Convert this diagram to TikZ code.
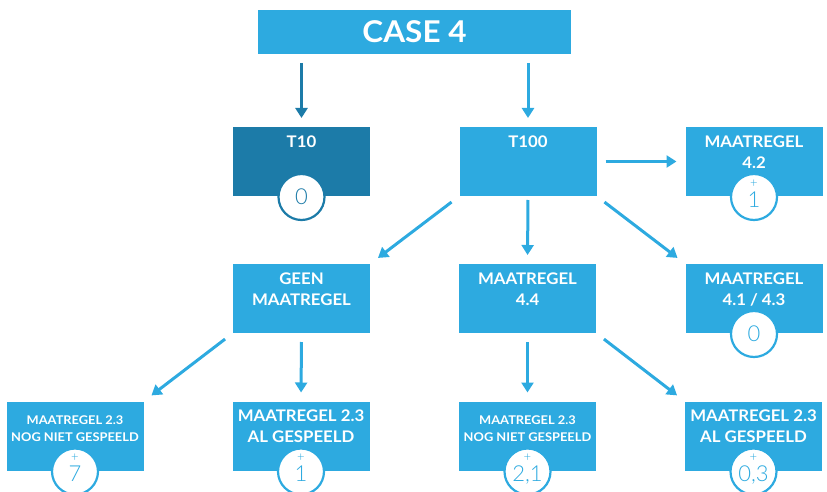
\documentclass[tikz,border=0pt]{standalone}
\usepackage{fontspec}
\setmainfont{Lato}[FakeStretch=1.05]
\newfontfamily\smallfont{Lato}[FakeStretch=1.07]
\newfontfamily\lightfont{Lato Light}
\usetikzlibrary{arrows.meta}
\definecolor{sky}{HTML}{2DAAE0}
\definecolor{deep}{HTML}{1C7BA8}
\begin{document}
\begin{tikzpicture}[x=1pt,y=-1pt,
  box/.style={fill=sky, draw=none, minimum width=137pt, minimum height=69pt, inner sep=0pt, outer sep=0pt},
  lbl/.style={text=white, font=\bfseries\fontsize{16}{21}\selectfont, align=center, inner sep=0pt, anchor=north},
  smalllbl/.style={lbl, font=\smallfont\bfseries\fontsize{12}{17}\selectfont},
  badge/.style={circle, fill=white, draw=sky, line width=2.2pt, minimum size=46pt, inner sep=0pt},
  num/.style={text=sky, font=\lightfont\fontsize{22}{22}\selectfont, inner sep=0pt, text depth=0pt},
  plus/.style={text=sky, font=\lightfont\fontsize{13}{13}\selectfont, inner sep=0pt},
  arr/.style={color=sky, line width=3pt, -{Triangle[width=12pt,length=10pt]}, shorten <=9pt, shorten >=9pt}]
\useasboundingbox (0,0) rectangle (827,492);

% boxes
\node[box, minimum width=313pt, minimum height=44pt, text=white,
      font=\bfseries\fontsize{30}{30}\selectfont] (case) at (414.5,32) {CASE 4};
\node[box, fill=deep] (t10) at (301.5,161.5) {};
\node[box] (t100) at (528,161.5) {};
\node[box] (m42)  at (754,161.5) {};
\node[box] (geen) at (301.5,298.5) {};
\node[box] (m44)  at (527.5,298.5) {};
\node[box] (m41)  at (754,298.5) {};
\node[box] (b1) at (75,436) {};
\node[box] (b2) at (301,436) {};
\node[box] (b3) at (527.5,436) {};
\node[box] (b4) at (753.5,436) {};

% box labels
\node[lbl] (t10t)  at ([yshift=-8.5pt]t10.north)  {T10};
\node[lbl] (t100t) at ([yshift=-8.5pt]t100.north) {T100};
\node[lbl] (m42t)  at ([yshift=-9pt]m42.north)   {MAATREGEL\\4.2};
\node[lbl] (geent) at ([yshift=-9pt]geen.north)  {GEEN\\MAATREGEL};
\node[lbl] (m44t)  at ([yshift=-9pt]m44.north)   {MAATREGEL\\4.4};
\node[lbl] (m41t)  at ([yshift=-9pt]m41.north)   {MAATREGEL\\4.1 / 4.3};
\node[smalllbl] (b1t) at ([yshift=-14pt]b1.north) {MAATREGEL 2.3\\NOG NIET GESPEELD};
\node[lbl]      (b2t) at ([yshift=-8pt]b2.north)  {MAATREGEL 2.3\\AL GESPEELD};
\node[smalllbl] (b3t) at ([yshift=-14pt]b3.north) {MAATREGEL 2.3\\NOG NIET GESPEELD};
\node[lbl]      (b4t) at ([yshift=-8pt]b4.north)  {MAATREGEL 2.3\\AL GESPEELD};

% connectors
\draw[arr, color=deep] (case.south -| t10) -- (t10.north);
\draw[arr] (case.south -| t100) -- (t100.north);
\draw[arr] (t100.east) -- (m42.west);
\draw[arr, shorten <=10pt, shorten >=10pt] (t100.south east) -- (m41.north west);
\draw[arr, shorten <=4pt] (t100.south) -- (m44.north);
\draw[arr, shorten <=10pt, shorten >=10pt] (t100.south west) -- (geen.north east);
\draw[arr, shorten <=10pt, shorten >=10pt] (geen.south west) -- (b1.north east);
\draw[arr] (geen.south) -- (b2.north);
\draw[arr] (m44.south) -- (b3.north);
\draw[arr, shorten <=10pt, shorten >=10pt] (m44.south east) -- (b4.north west);

% score badges
\node[badge, draw=deep] (c10) at ([yshift=-1pt]t10.south) {};
\node[num, text=deep] (c10n) at (c10.center) {0};

\node[badge] (c42) at ([yshift=-1pt]m42.south) {};
\node[plus] (c42p) at ([yshift=13.5pt]c42.center) {+};
\node[num]  (c42n) at ([yshift=-2.5pt]c42.center) {1};

\node[badge] (c41) at ([yshift=-1pt]m41.south) {};
\node[num]  (c41n) at (c41.center) {0};

\node[badge] (cb1) at ([yshift=-1pt]b1.south) {};
\node[plus] (cb1p) at ([yshift=13.5pt]cb1.center) {+};
\node[num]  (cb1n) at ([yshift=-2.5pt]cb1.center) {7};

\node[badge] (cb2) at ([yshift=-1pt]b2.south) {};
\node[plus] (cb2p) at ([yshift=13.5pt]cb2.center) {+};
\node[num]  (cb2n) at ([yshift=-2.5pt]cb2.center) {1};

\node[badge] (cb3) at ([yshift=-1pt]b3.south) {};
\node[plus] (cb3p) at ([yshift=13.5pt]cb3.center) {+};
\node[num]  (cb3n) at ([yshift=-2.5pt]cb3.center) {2,1};

\node[badge] (cb4) at ([yshift=-1pt]b4.south) {};
\node[plus] (cb4p) at ([yshift=13.5pt]cb4.center) {+};
\node[num]  (cb4n) at ([yshift=-2.5pt]cb4.center) {0,3};
\end{tikzpicture}
\end{document}
